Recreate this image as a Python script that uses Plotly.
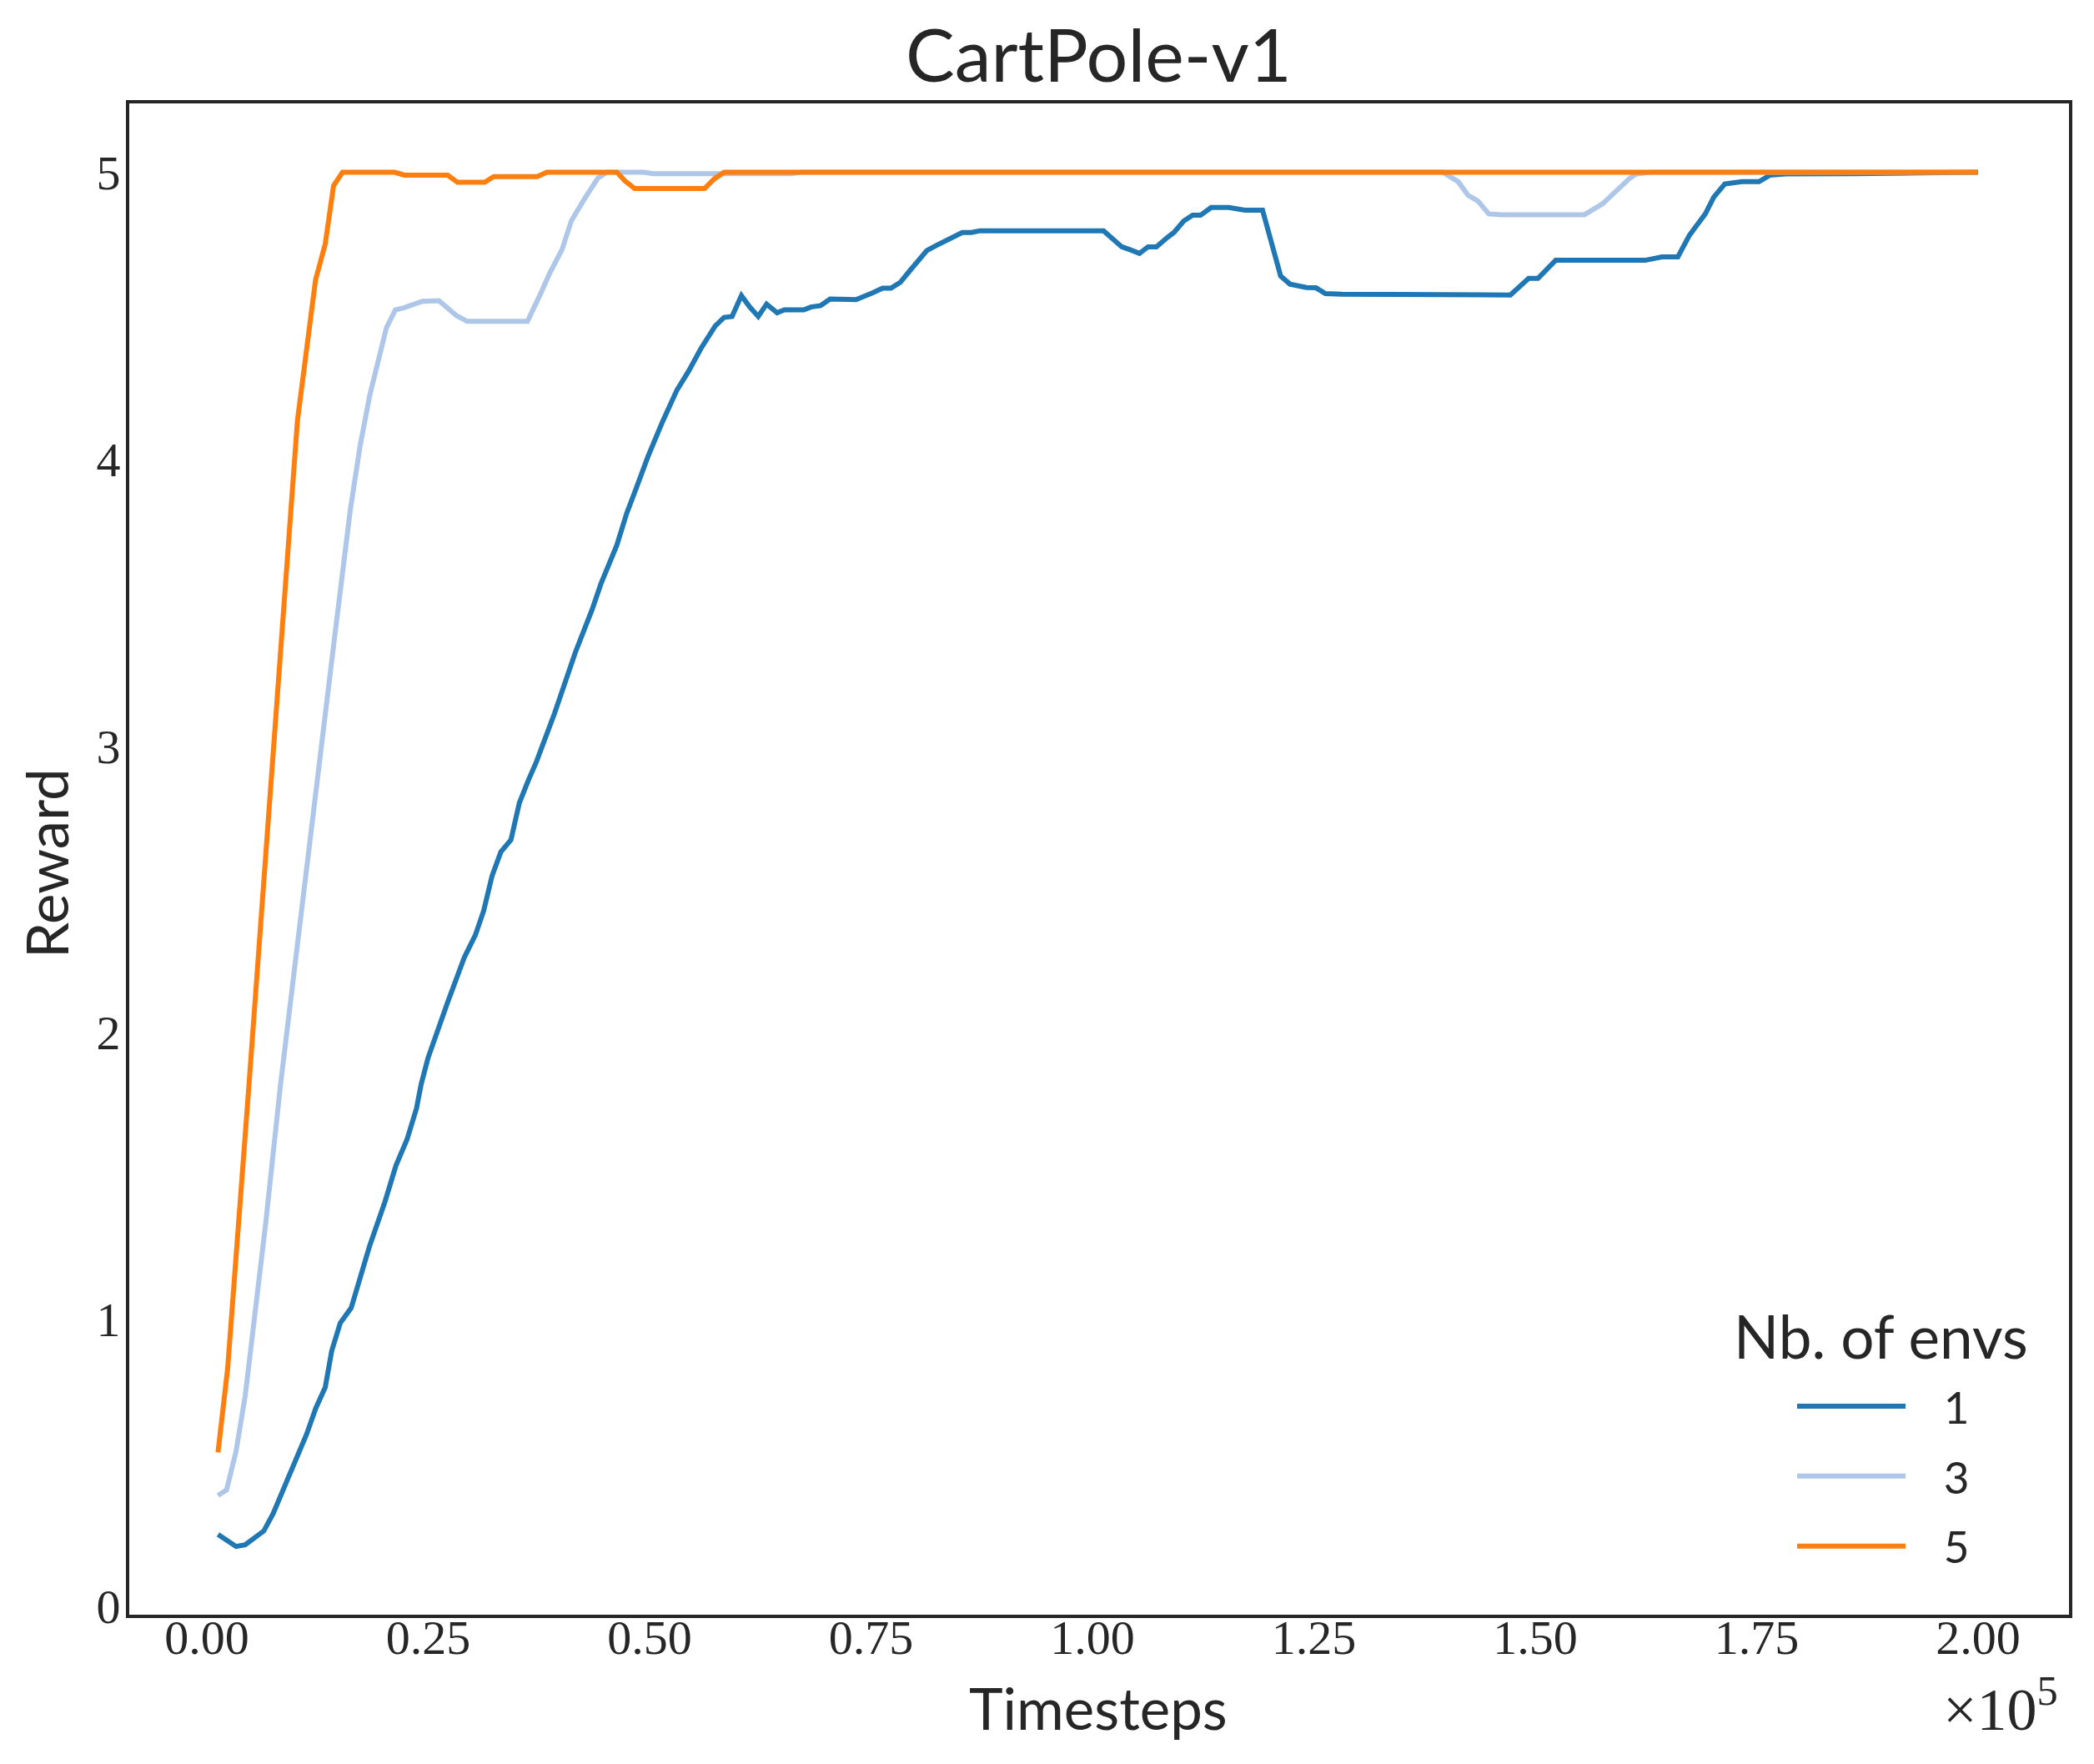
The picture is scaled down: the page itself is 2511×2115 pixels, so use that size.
import plotly.graph_objects as go

# ---- data (timesteps, reward / 100) ----
steps_1 = [1260, 2350, 3300, 4330, 5380, 6430, 7490, 8320, 9170, 10220, 11270, 12300, 13370, 14100,
           15060, 16300, 17360, 18400, 20100, 21350, 22600, 23670, 24200, 24980, 27180, 29070, 30320,
           31260, 32200, 33200, 34340, 35280, 36280, 37220, 39270, 41600, 43500, 44500, 46300, 47400,
           48470, 49800, 51450, 53070, 54430, 55780, 57400, 58400, 59300, 60360, 61300, 62260, 63200,
           64400, 65200, 67400, 68200, 69300, 70370, 73300, 75200, 76300, 77250, 78300, 79300, 81300,
           82400, 83360, 84300, 85300, 86340, 87300, 101250, 103300, 104240, 105300, 106280, 107220,
           108470, 109200, 110300, 111300, 112200, 113400, 115400, 117200, 119200, 121250, 122300,
           124150, 125240, 126300, 128160, 135400, 136170, 147180, 149250, 150300, 152300, 162400,
           164300, 166100, 167400, 168300, 169200, 170150, 171400, 173350, 175260, 176500, 178300,
           186000, 200000]
reward_1 = [0.250, 0.227, 0.208, 0.214, 0.238, 0.262, 0.323, 0.383, 0.443, 0.522, 0.600, 0.690, 0.763,
            0.890, 0.987, 1.040, 1.144, 1.258, 1.409, 1.536, 1.627, 1.735, 1.820, 1.912, 2.105, 2.262,
            2.340, 2.425, 2.546, 2.630, 2.672, 2.800, 2.878, 2.945, 3.114, 3.325, 3.475, 3.565, 3.700,
            3.810, 3.897, 4.008, 4.130, 4.240, 4.308, 4.385, 4.464, 4.494, 4.497, 4.570, 4.530, 4.497,
            4.540, 4.510, 4.520, 4.520, 4.530, 4.535, 4.558, 4.556, 4.580, 4.596, 4.596, 4.616, 4.654,
            4.727, 4.745, 4.760, 4.770, 4.790, 4.790, 4.796, 4.796, 4.740, 4.730, 4.717, 4.740, 4.740,
            4.773, 4.790, 4.830, 4.850, 4.850, 4.877, 4.877, 4.868, 4.868, 4.638, 4.610, 4.598, 4.597,
            4.577, 4.575, 4.575, 4.572, 4.572, 4.630, 4.630, 4.693, 4.693, 4.705, 4.705, 4.780, 4.820,
            4.855, 4.913, 4.959, 4.967, 4.967, 4.990, 4.994, 4.995, 5.000]

steps_3 = [1260, 2230, 3300, 4330, 6650, 8320, 14470, 16200, 17300, 18400, 20270, 21280, 22300, 24350,
           26200, 28200, 29400, 36200, 37660, 38700, 40100, 41150, 42500, 44160, 45200, 49300, 50400,
           66000, 67100, 139550, 141300, 142400, 143500, 144750, 146100, 155550, 157600, 159200,
           160700, 161400, 163000, 200000]
reward_3 = [0.386, 0.405, 0.540, 0.733, 1.336, 1.819, 3.390, 3.823, 4.045, 4.223, 4.457, 4.520, 4.528,
            4.550, 4.552, 4.500, 4.480, 4.480, 4.575, 4.647, 4.730, 4.830, 4.900, 4.980, 5.000, 5.000,
            4.995, 4.995, 5.000, 5.000, 4.967, 4.920, 4.900, 4.855, 4.852, 4.852, 4.890, 4.937, 4.980,
            4.994, 5.000, 5.000]

steps_5 = [1260, 2350, 4760, 8410, 10230, 12270, 13370, 14310, 15320, 21200, 22300, 27200, 28300,
           31370, 32400, 37300, 38400, 46300, 47200, 48300, 56200, 57300, 58400, 200000]
reward_5 = [0.536, 0.829, 1.819, 3.390, 4.134, 4.624, 4.750, 4.953, 5.000, 5.000, 4.990, 4.990, 4.965,
            4.965, 4.985, 4.985, 5.000, 5.000, 4.970, 4.943, 4.943, 4.977, 5.000, 5.000]

series_names = ["1", "3", "5"]
series_colors = ["#1f77b4", "#aec7e8", "#ff7f0e"]
legend_title = "Nb. of envs"

x_tickvals = [0, 25000, 50000, 75000, 100000, 125000, 150000, 175000, 200000]
x_ticktext = ["0.00", "0.25", "0.50", "0.75", "1.00", "1.25", "1.50", "1.75", "2.00"]
y_tickvals = [0, 1, 2, 3, 4, 5]
y_ticktext = ["0", "1", "2", "3", "4", "5"]

# ---- figure ----
W, H = 2511, 2115
ML, MR, MT, MB = 155, 30, 124, 179
PW, PH = W - ML - MR, H - MT - MB


def px_x(p):
    return (p - ML) / PW


def px_y(p):
    return (H - MB - p) / PH


SANS = "Lato, 'DejaVu Sans', sans-serif"
SERIF = "'Liberation Serif', 'DejaVu Serif', serif"
INK = "#262626"
NBSP = "\u00a0"

fig = go.Figure()
for i, (xs, ys) in enumerate([(steps_1, reward_1), (steps_3, reward_3), (steps_5, reward_5)]):
    fig.add_trace(go.Scatter(
        x=xs, y=ys, mode="lines", name=NBSP * 3 + series_names[i],
        legendgroup=series_names[i],
        line=dict(color=series_colors[i], width=6),
    ))

axis_common = dict(
    showgrid=False, zeroline=False, showline=True, mirror=True,
    linecolor=INK, linewidth=4, ticks="",
    tickfont=dict(family=SERIF, size=58, color=INK),
)

fig.update_layout(
    width=W, height=H,
    margin=dict(l=ML, r=MR, t=MT, b=MB),
    paper_bgcolor="white", plot_bgcolor="white",
    showlegend=True,
    xaxis=dict(range=[-8760, 210260], tickvals=x_tickvals, ticktext=x_ticktext,
               ticklabelstandoff=-27, **axis_common),
    yaxis=dict(range=[-0.03, 5.24], tickvals=y_tickvals, ticktext=y_ticktext,
               ticklabelstandoff=-5, **axis_common),
    legend=dict(
        font=dict(family=SANS, size=53, color=INK),
        x=px_x(2150), xanchor="left",
        y=px_y(1895), yanchor="bottom",
        bgcolor="rgba(0,0,0,0)",
        itemwidth=130,
        tracegroupgap=12,
        traceorder="grouped",
    ),
    annotations=[
        dict(text="CartPole-v1", x=px_x(1317), y=px_y(64), xref="paper", yref="paper",
             xanchor="center", yanchor="middle", showarrow=False,
             font=dict(family=SANS, size=88, color=INK)),
        dict(text="Timesteps", x=px_x(1317), y=px_y(2047), xref="paper", yref="paper",
             xanchor="center", yanchor="middle", showarrow=False,
             font=dict(family=SANS, size=69, color=INK)),
        dict(text="Reward", x=px_x(55), y=px_y(1035), xref="paper", yref="paper",
             xanchor="center", yanchor="middle", showarrow=False, textangle=-90,
             font=dict(family=SANS, size=69, color=INK)),
        dict(text="×10<sup>5</sup>", x=px_x(2470), y=px_y(2045), xref="paper", yref="paper",
             xanchor="right", yanchor="middle", showarrow=False,
             font=dict(family=SERIF, size=72, color=INK)),
        dict(text=legend_title, x=px_x(2255), y=px_y(1601), xref="paper", yref="paper",
             xanchor="center", yanchor="middle", showarrow=False,
             font=dict(family=SANS, size=71, color=INK)),
    ],
)

fig.write_html("out.html")
